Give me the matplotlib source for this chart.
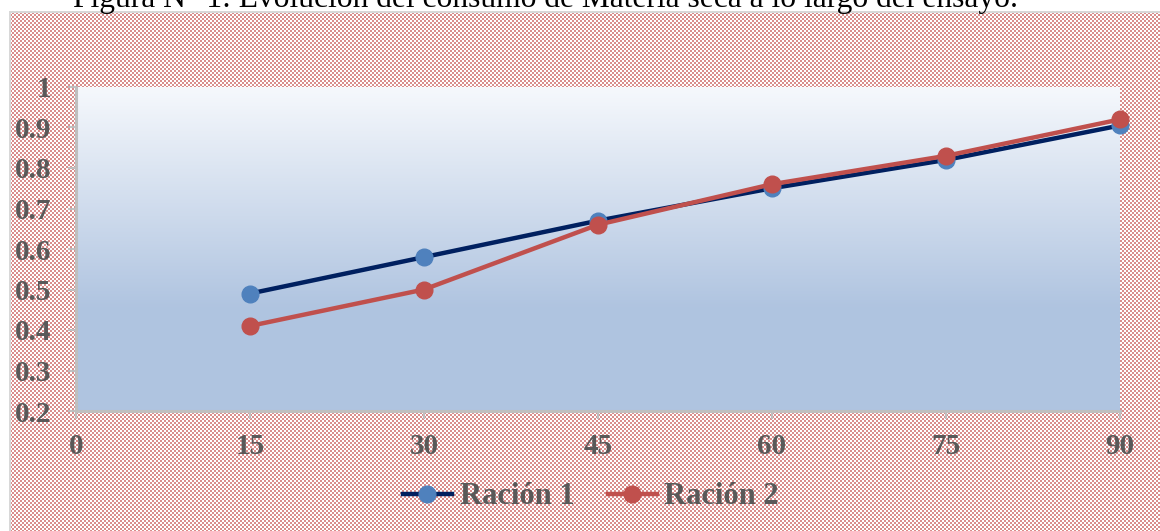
import numpy as np
import matplotlib
matplotlib.use("Agg")
import matplotlib.pyplot as plt

# ---- data ----
days = [15, 30, 45, 60, 75, 90]
racion1 = [0.49, 0.58, 0.67, 0.75, 0.82, 0.905]
racion2 = [0.41, 0.50, 0.66, 0.76, 0.83, 0.92]
series_labels = ["Ración 1", "Ración 2"]
x_ticks = [0, 15, 30, 45, 60, 75, 90]
y_ticks = [0.2, 0.3, 0.4, 0.5, 0.6, 0.7, 0.8, 0.9, 1.0]
y_ticklabels = ["0.2", "0.3", "0.4", "0.5", "0.6", "0.7", "0.8", "0.9", "1"]
title = "Figura N° 1: Evolución del consumo de Materia seca a lo largo del ensayo."

W, H = 1160, 531
fig = plt.figure(figsize=(W / 100, H / 100), dpi=100)
fig.patch.set_facecolor("white")

# checkerboard background of the chart area
yy, xx = np.mgrid[0:H, 0:W]
check = ((yy // 2 + xx // 2) % 2 == 0)
bg = np.ones((H, W, 3))
red = np.array([217, 141, 140]) / 255.0
bg[check] = red
bg[:12, :] = 1.0
bg[:, :11] = 1.0
bg[11:13, 10:] = np.array([0.85, 0.85, 0.85])
bg[11:, 9:11] = np.array([0.85, 0.85, 0.85])
fig.figimage(bg, xo=0, yo=0, origin="upper", zorder=-10)

ax = fig.add_axes([76 / W, 1 - 411 / H, (1120 - 76) / W, (411 - 87) / H])
ax.set_zorder(2)
ax.set_facecolor("none")

# gradient in plot area
n = 256
t = np.linspace(0, 1, n)
top = np.array([0.965, 0.975, 0.99])
bot = np.array([0.69, 0.77, 0.88])
f = np.clip(t / 0.68, 0, 1)
grad = top[None, :] * (1 - f[:, None]) + bot[None, :] * f[:, None]
grad = np.repeat(grad[:, None, :], 2, axis=1)
ax.imshow(grad, extent=[0, 1, 0, 1], transform=ax.transAxes, aspect="auto",
          origin="upper", zorder=0)

ax.plot(days, racion1, color="#002060", lw=3.2, marker="o", ms=12,
        markerfacecolor="#4f81bd", markeredgecolor="#4f81bd", label=series_labels[0], zorder=3,
        clip_on=False)
ax.plot(days, racion2, color="#c0504d", lw=3.2, marker="o", ms=12,
        markerfacecolor="#c0504d", markeredgecolor="#c0504d", label=series_labels[1], zorder=4,
        clip_on=False)

ax.set_xlim(0, 90)
ax.set_ylim(0.2, 1.0)
ax.set_xticks(x_ticks)
ax.set_xticklabels([str(v) for v in x_ticks])
ax.set_yticks(y_ticks)
ax.set_yticklabels(y_ticklabels)

for s in ["top", "right"]:
    ax.spines[s].set_visible(False)
for s in ["left", "bottom"]:
    ax.spines[s].set_color("#bfbfbf")
    ax.spines[s].set_linewidth(2.2)

ax.tick_params(axis="both", colors="#bfbfbf", width=1.5, length=6, direction="out")
for lab in ax.get_xticklabels() + ax.get_yticklabels():
    lab.set_fontfamily("Liberation Serif")
    lab.set_fontweight("bold")
    lab.set_fontsize(21)
    lab.set_color("#595959")
ax.tick_params(axis="x", pad=10)
ax.tick_params(axis="y", pad=12)

leg = fig.legend(loc="center", bbox_to_anchor=(591 / W, 1 - 497 / H), ncol=2, frameon=False,
                 prop=dict(family="Liberation Serif", weight="bold", size=22),
                 handlelength=1.6, handletextpad=0.25, columnspacing=1.1)
leg.set_zorder(5)
for txt in leg.get_texts():
    txt.set_color("#595959")

fig.text(0.47, 1 - 7 / H, title, ha="center", va="baseline",
         family="Liberation Serif", size=22.7, color="black", zorder=5)

fig.savefig("out.png", dpi=100)
